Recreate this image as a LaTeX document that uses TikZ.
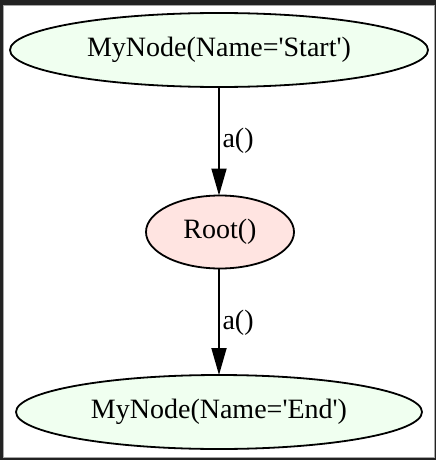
\documentclass[tikz,border=0pt]{standalone}
\usepackage{fontspec}
\setmainfont{Liberation Serif}
\usetikzlibrary{arrows.meta}
\definecolor{framec}{HTML}{222222}
\definecolor{greenfill}{HTML}{F0FFF0}
\definecolor{pinkfill}{HTML}{FFE4E1}
\newcommand{\sq}{\textquotesingle}
\tikzset{
  edge/.style={draw=black, line width=1.8pt, -{Triangle[length=27pt,width=15pt]}},
  lbl/.style={font=\fontsize{28}{34}\selectfont, anchor=west},
  txt/.style={font=\fontsize{28}{34}\selectfont},
  ellline/.style={draw=black, line width=1.8pt}
}
\begin{document}
\begin{tikzpicture}[x=1pt,y=-1pt]
\useasboundingbox (0,0) rectangle (436,460);
\fill[framec] (0,0) rectangle (436,460);
\fill[white] (3,5) rectangle (434,457);
\draw[gray!70, line width=0.8pt] (3,5) rectangle (434,457);
% ellipses
\filldraw[ellline, fill=greenfill] (219,50) ellipse [x radius=209, y radius=37];
\node[txt] (start) at (219,50) {MyNode(Name=\sq Start\sq)};
\filldraw[ellline, fill=pinkfill] (220,232) ellipse [x radius=74, y radius=36.5];
\node[txt] (root) at (220,232) {Root()};
\filldraw[ellline, fill=greenfill] (219,412) ellipse [x radius=203, y radius=37];
\node[txt] (end) at (219,412) {MyNode(Name=\sq End\sq)};
\coordinate (s1) at (219,87);
\coordinate (t1) at (219,195.5);
\coordinate (s2) at (219,268.5);
\coordinate (t2) at (219,375);
\draw[edge] (s1) -- (t1);
\draw[edge] (s2) -- (t2);
\node[lbl] (l1) at (219,141) {a()};
\node[lbl] (l2) at (219,323) {a()};
\end{tikzpicture}
\end{document}
